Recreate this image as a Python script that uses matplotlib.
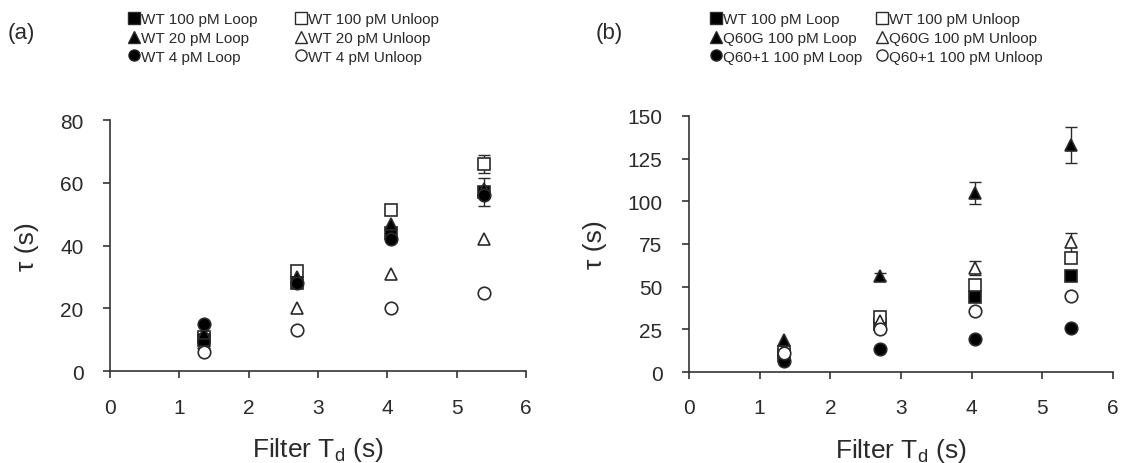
import numpy as np
import matplotlib
matplotlib.use("Agg")
import matplotlib.pyplot as plt
from matplotlib.lines import Line2D

plt.rcParams['font.family'] = ['Liberation Sans', 'DejaVu Sans']

# filter durations (s)
td = [1.35, 2.7, 4.05, 5.4]

# panel (a)
a_labels = ["WT 100 pM Loop", "WT 20 pM Loop", "WT 4 pM Loop",
            "WT 100 pM Unloop", "WT 20 pM Unloop", "WT 4 pM Unloop"]
a_wt100_loop = [10, 28, 44, 57]
a_wt20_loop = [12, 30, 47, 58]
a_wt4_loop = [15, 28, 42, 56]
a_wt100_unloop = [11, 32, 51.5, 66]
a_wt20_unloop = [9, 20, 31, 42]
a_wt4_unloop = [6, 13, 20, 25]
a_err_wt100_loop = [0, 0, 2, 4.5]
a_err_wt100_unloop = [0, 0, 0, 3]

# panel (b)
b_labels = ["WT 100 pM Loop", "Q60G 100 pM Loop", "Q60+1 100 pM Loop",
            "WT 100 pM Unloop", "Q60G 100 pM Unloop", "Q60+1 100 pM Unloop"]
b_wt100_loop = [10, 28, 44, 56.5]
b_q60g_loop = [19, 56, 105, 133]
b_q601_loop = [6.5, 13.5, 19.5, 26]
b_wt100_unloop = [12, 32, 51, 67]
b_q60g_unloop = [13, 30, 61, 76]
b_q601_unloop = [11, 25, 35.5, 44.5]
b_err_q60g_loop = [0, 2, 6.5, 10.5]
b_err_q60g_unloop = [0, 0, 4, 5.5]

markers = ['s', '^', 'o', 's', '^', 'o']
fills = ['k', 'k', 'k', 'w', 'w', 'w']
ink = '#2a2a2a'
W, H = 1138, 464


def draw_panel(ax, series, errs, labels, ymax, ystep, order, leg_xy, colsp):
    for i in order:
        y = np.array(series[i], dtype=float)
        if i in errs:
            e = np.array(errs[i], dtype=float)
            m = e > 0
            x = np.array(td)[m]
            ax.errorbar(x, y[m], yerr=e[m], fmt='none', ecolor=ink,
                        elinewidth=1, capsize=4, capthick=1, zorder=2)
        ax.plot(td, y, linestyle='none', marker=markers[i], ms=9,
                mfc=fills[i], mec=ink, mew=1.2, zorder=3)
    ax.set_xlim(0, 6)
    ax.set_ylim(0, ymax)
    ax.set_xticks(range(0, 7))
    ax.set_yticks(np.arange(0, ymax + 1, ystep))
    for s in ['top', 'right']:
        ax.spines[s].set_visible(False)
    for s in ['left', 'bottom']:
        ax.spines[s].set_color('#333333')
        ax.spines[s].set_linewidth(1.2)
    ax.tick_params(direction='out', length=5, width=1.2, colors='#333333',
                   labelsize=15, labelcolor=ink, pad=14)
    ax.set_xlabel('Filter T$_\\mathregular{d}$ (s)', fontsize=19, color=ink,
                  labelpad=13)
    ax.set_ylabel('τ (s)', fontsize=19, color=ink, labelpad=15)

    handles = [Line2D([], [], linestyle='none', marker=markers[i], ms=8,
                      mfc=fills[i], mec=ink, mew=1) for i in range(6)]
    fig.legend(handles, labels, ncol=2, frameon=False, fontsize=11,
               loc='upper left', bbox_to_anchor=(leg_xy[0] / W, 1 - leg_xy[1] / H),
               handletextpad=0.05, handlelength=0.8, columnspacing=colsp,
               labelspacing=0.32, borderaxespad=0, borderpad=0,
               labelcolor=ink)


fig = plt.figure(figsize=(11.38, 4.64), dpi=100)
ax1 = fig.add_axes([0.0967, 0.198, 0.3655, 0.541])
ax2 = fig.add_axes([0.6054, 0.196, 0.3726, 0.552])

draw_panel(ax1,
           [a_wt100_loop, a_wt20_loop, a_wt4_loop,
            a_wt100_unloop, a_wt20_unloop, a_wt4_unloop],
           {0: a_err_wt100_loop, 3: a_err_wt100_unloop},
           a_labels, 80, 20, [3, 4, 5, 0, 1, 2], (128, 13), 2.45)
draw_panel(ax2,
           [b_wt100_loop, b_q60g_loop, b_q601_loop,
            b_wt100_unloop, b_q60g_unloop, b_q601_unloop],
           {1: b_err_q60g_loop, 4: b_err_q60g_unloop},
           b_labels, 150, 25, [0, 2, 3, 4, 5, 1], (710, 13), 0.9)

fig.text(8 / W, 1 - 33 / H, '(a)', fontsize=16, color=ink, va='center')
fig.text(596 / W, 1 - 33 / H, '(b)', fontsize=16, color=ink, va='center')

fig.savefig('out.png', dpi=100)
